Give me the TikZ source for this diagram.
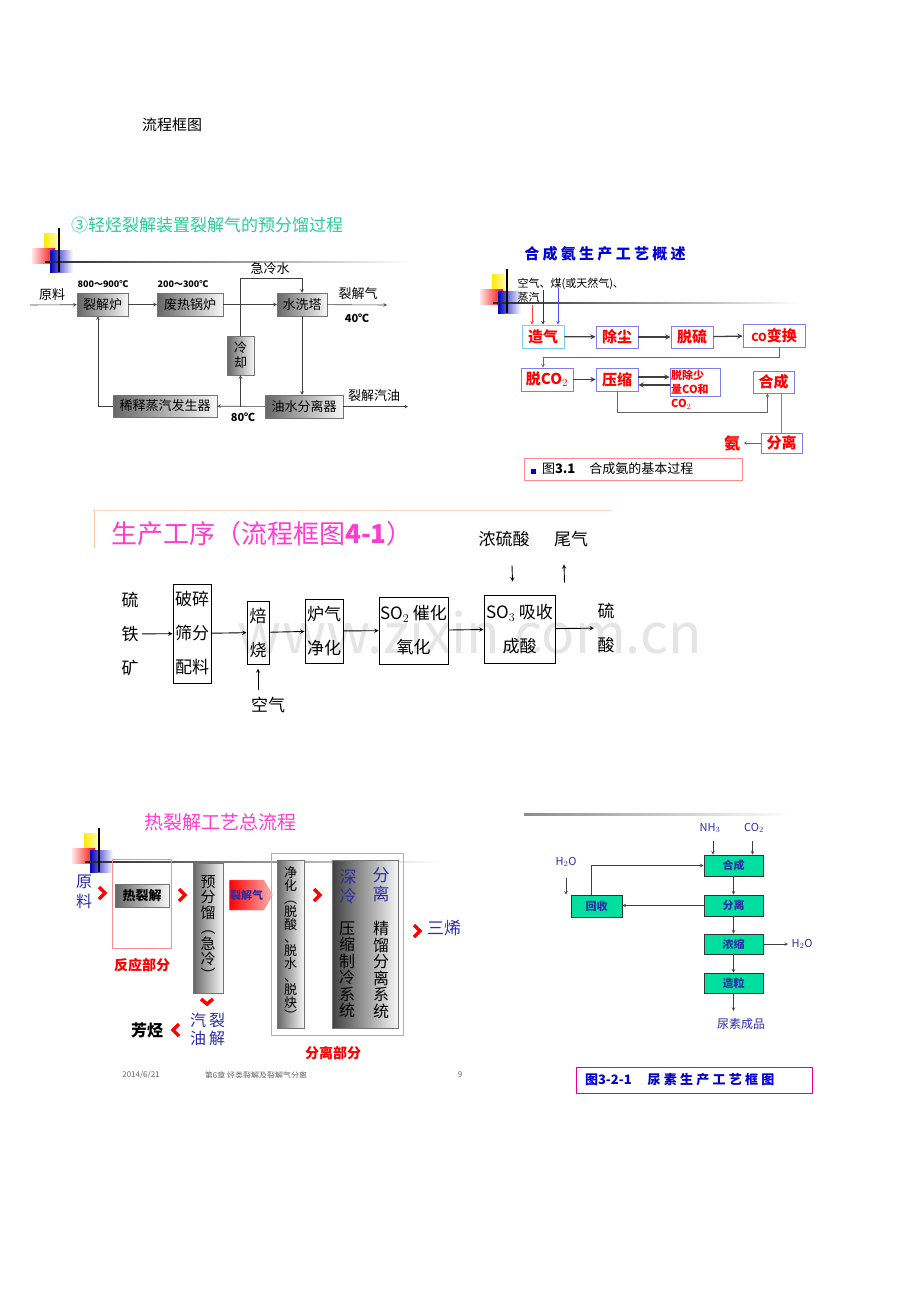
\documentclass[tikz,border=0pt]{standalone}
\usepackage{fontspec}
\setmainfont{Noto Sans CJK SC}
\usetikzlibrary{shapes.symbols}

\definecolor{mint}{RGB}{0,222,160}
\definecolor{rose}{RGB}{255,60,210}
\definecolor{seagreen}{RGB}{40,205,150}
\definecolor{inkblue}{RGB}{45,45,170}
\definecolor{frameblue}{RGB}{125,125,235}

\tikzset{
  pics/cornermark/.style={code={
    \shade[left color=yellow!85!orange, right color=white] (-15,-29) rectangle (4,-12);
    \shade[left color=red!10, right color=red] (-27,-14) rectangle (-4,1);
    \shade[left color=blue!75!black, right color=white] (-9,-12) rectangle (14,10);
    \shade[left color=black!85, right color=white] (-14,-0.7) rectangle (#1,0.7);
    \draw[line width=1.1pt] (0,-34) -- (0,10);
  }},
  f9/.style={font=\bfseries\fontsize{9}{11}\selectfont},
  f11/.style={font=\fontsize{11}{14}\selectfont},
  f13/.style={font=\fontsize{13}{15}\selectfont},
  f16/.style={font=\fontsize{16}{18}\selectfont},
  f17/.style={font=\fontsize{17}{34}\selectfont},
  shadebox/.style={draw=black!55, left color=black!60, right color=black!3, inner sep=0pt, align=center},
  bluebox/.style={draw=frameblue, line width=0.9pt, text=red, inner sep=0pt, font=\bfseries\fontsize{15}{17}\selectfont},
  plainbox/.style={draw, line width=1pt, inner sep=0pt, align=center, font=\fontsize{17}{34}\selectfont},
  greenbox/.style={draw=black!80, line width=0.8pt, fill=mint, text=inkblue, inner sep=0pt, minimum width=59, minimum height=21, font=\bfseries\fontsize{11}{13}\selectfont},
  redframe/.style={draw=red!45, line width=0.8pt},
  chev/.style={red, line width=3.5pt},
  thinarrow/.style={->, black!75, line width=0.6pt},
  heavyarrow/.style={->, black!75, line width=1.3pt},
}

\begin{document}
\begin{tikzpicture}[x=1pt,y=-1pt,>=stealth]
\useasboundingbox[fill=white] (0,0) rectangle (920,1302);

\node[font=\fontsize{15}{18}\selectfont] (T0) at (172,125) {流程框图};

% light cracking gas pre-fractionation
\node[font=\fontsize{17}{20}\selectfont, text=seagreen] (T1) at (207,225) {③轻烃裂解装置裂解气的预分馏过程};
\pic at (59,262) {cornermark=351};
\node[shadebox, f13, minimum width=51, minimum height=23] (A1) at (102.5,304.5) {裂解炉};
\node[shadebox, f13, minimum width=66, minimum height=23] (B1) at (190,304.5) {废热锅炉};
\node[shadebox, f13, minimum width=50, minimum height=23] (C1) at (302,304.5) {水洗塔};
\node[shadebox, f13, minimum width=27, minimum height=39, font=\fontsize{13}{15}\selectfont] (D1) at (240.5,355.5) {冷\\却};
\node[shadebox, f13, minimum width=78, minimum height=23] (E1) at (304,406.5) {油水分离器};
\node[shadebox, f13, minimum width=104, minimum height=22] (F1) at (165,406) {稀释蒸汽发生器};
\node[f13] (L1) at (52,295) {原料};
\node[f9] (M1) at (103,284) {800～900℃};
\node[f9] (M2) at (183,284) {200～300℃};
\node[f13] (N1) at (270,269) {急冷水};
\node[f13] (O1) at (358,294) {裂解气};
\node[f9, font=\bfseries\fontsize{11}{13}\selectfont] (P1) at (357,318) {40℃};
\node[f13] (Q1) at (374,396) {裂解汽油};
\node[font=\bfseries\fontsize{11}{13}\selectfont] (R1) at (243,417) {80℃};
\coordinate (S1) at (30,305);
\coordinate (X1) at (387,305);
\coordinate (Y1) at (408,406.5);
\coordinate (K1) at (302,278);
\draw[thinarrow] (S1) -- (A1);
\draw[thinarrow] (A1) -- (B1);
\draw[thinarrow] (B1) -- (C1);
\draw[thinarrow] (C1) -- (X1);
\draw[thinarrow] (C1.south) -- (C1 |- E1.north);
\draw[thinarrow] (E1) -- (Y1);
\draw[thinarrow] (E1) -- (F1);
\draw[thinarrow] (D1 |- E1) -- (D1.south);
\draw[thinarrow] (D1.north) |- (K1) -- (C1.north);
\draw[thinarrow] (F1.west) -| ([xshift=-4.5pt]A1.south);

% ammonia synthesis
\node[font=\bfseries\fontsize{15}{17}\selectfont\addfontfeatures{LetterSpace=22}, text=blue!85!black] (T2) at (605,254) {合成氨生产工艺概述};
\pic at (507,303) {cornermark=293};
\node[f11, align=left, anchor=north west] (U2) at (514,275) {空气、煤(或天然气)、\\蒸汽};
\node[bluebox, draw=cyan!55, minimum width=42, minimum height=23] (A2) at (543,336.5) {造气};
\node[bluebox, minimum width=42, minimum height=22] (B2) at (617,337) {除尘};
\node[bluebox, minimum width=42, minimum height=22] (C2) at (692,337) {脱硫};
\node[bluebox, minimum width=62, minimum height=23] (D2) at (774,335.5) {{\fontsize{11}{13}\selectfont CO}变换};
\node[bluebox, minimum width=52, minimum height=23] (E2) at (547,379.5) {脱CO$_2$};
\node[bluebox, minimum width=42, minimum height=23] (F2) at (617,379.5) {压缩};
\node[bluebox, minimum width=50, minimum height=28] (G2) at (695,382) {};
\node[anchor=north west, align=left, text=red, inner sep=0pt, font=\bfseries\fontsize{11}{14}\selectfont] (G2t) at (671,370) {脱除少\\量CO和\\CO$_2$};
\node[bluebox, minimum width=41, minimum height=22] (H2) at (773.5,382) {合成};
\node[bluebox, minimum width=41, minimum height=20] (I2) at (781.5,443) {分离};
\node[text=red, font=\bfseries\fontsize{16}{18}\selectfont] (N2) at (732,443) {氨};
\coordinate (V2a) at (532,305);
\coordinate (V2b) at (543,290);
\coordinate (V2c) at (558,288);
\draw[->, red!75, line width=0.6pt] (V2a) -- (V2a |- A2.north);
\draw[->, black!80, line width=0.6pt] (V2b) -- (V2b |- A2.north);
\draw[->, blue!70, line width=0.6pt] (V2c) -- (V2c |- A2.north);
\draw[heavyarrow] (A2) -- (B2);
\draw[heavyarrow] (B2) -- (C2);
\draw[heavyarrow] (C2) -- (D2);
\draw[thinarrow, black!60] ([xshift=5pt]D2.south) -- ++(0,10) -| (E2.north -| A2);
\draw[heavyarrow] (E2) -- (F2);
\draw[heavyarrow] ([yshift=2.5pt]F2.east) -- ([yshift=2.5pt]F2.east -| G2.west);
\draw[heavyarrow] ([yshift=-5.5pt]F2.east -| G2.west) -- ([yshift=-5.5pt]F2.east);
\draw[thinarrow, black!60] (F2.south) -- ++(0,21) -| ([xshift=-6pt]H2.south);
\draw[black!50, line width=1pt] (H2.south -| I2) -- (I2.north);
\draw[thinarrow, black!60] (I2) -- (N2);
\node[redframe, minimum width=218, minimum height=22, inner xsep=7pt, text width=204, align=left, font=\fontsize{13}{15}\selectfont] (J2) at (633,469) {\textcolor{blue!75!black}{\rule{5pt}{5pt}}\hspace{6pt}图\textbf{3.1}\hspace{14pt}合成氨的基本过程};

% sulfuric acid
\node[text=black!10, font=\fontsize{55}{60}\selectfont] (W3) at (470,633) {www.zixin.com.cn};
\draw[orange!30, line width=0.8pt] (93,510) -- (612,510);
\draw[orange!40, line width=1pt] (94,510) -- (94,548);
\node[text=rose, font=\fontsize{26}{30}\selectfont] (T3) at (262,534) {生产工序（流程框图\textbf{4-1}）};
\node[plainbox, minimum width=38, minimum height=99] (A3) at (192,633.5) {破碎\\筛分\\配料};
\node[plainbox, minimum width=22, minimum height=63] (B3) at (258,632.5) {焙\\烧};
\node[plainbox, minimum width=38, minimum height=64] (C3) at (324,631) {炉气\\净化};
\node[plainbox, minimum width=69, minimum height=67] (D3) at (413.5,630.5) {SO$_2$ 催化\\氧化};
\node[plainbox, minimum width=71, minimum height=68] (E3) at (519.5,629) {SO$_3$ 吸收\\成酸};
\node[f17, align=center] (F3) at (130,634) {硫\\铁\\矿};
\node[f17, align=center] (G3) at (606,628) {硫\\酸};
\node[f17] (H3) at (268,705) {空气};
\node[f17] (I3) at (504,539) {浓硫酸};
\node[f17] (J3) at (571,539) {尾气};
\draw[->, line width=0.9pt] (F3) -- (A3);
\draw[->, line width=0.9pt] (A3) -- (B3);
\draw[->, line width=0.9pt] (B3) -- (C3);
\draw[->, line width=0.9pt] (C3) -- (D3);
\draw[->, line width=0.9pt] (D3) -- (E3);
\draw[->, line width=0.9pt] (E3) -- (G3);
\draw[->, line width=0.9pt] ([xshift=-10pt,yshift=4pt]H3.north) -- ([yshift=-4pt]B3.south);
\draw[->, line width=0.9pt] ([xshift=8pt,yshift=-15pt]I3.south) -- ([xshift=-7pt,yshift=13pt]E3.north);
\draw[->, line width=0.9pt] ([xshift=45pt,yshift=12pt]E3.north) -- ([xshift=-7pt,yshift=-14pt]J3.south);

% thermal cracking overview
\node[text=rose, font=\fontsize{19}{22}\selectfont] (T4) at (220,822) {热裂解工艺总流程};
\pic at (99,862) {cornermark=341};
\node[redframe, minimum width=59, minimum height=89] (K4) at (141.5,903.5) {};
\node[redframe, minimum width=132, minimum height=182] (L4) at (337,944) {};
\node[text=inkblue, align=center, font=\fontsize{16}{20}\selectfont] (R4) at (84,892) {原\\料};
\node[shadebox, minimum width=54, minimum height=23, font=\bfseries\fontsize{13}{15}\selectfont] (A4) at (142,895.5) {热裂解};
\node[shadebox, minimum width=30, minimum height=130, font=\fontsize{15}{15.5}\selectfont] (B4) at (208,928) {预\\分\\馏\\︵\\急\\冷\\︶};
\node[signal, signal to=east, signal pointer angle=120, left color=red, right color=red!30, draw=red!50, minimum width=43, minimum height=30, inner sep=0pt, text=inkblue, font=\bfseries\fontsize{11}{13}\selectfont] (C4) at (246.5,895) {裂解气};
\node[shadebox, minimum width=27, minimum height=168, font=\fontsize{13}{13}\selectfont] (D4) at (290.5,944) {净\\化\\︵\\脱\\酸\\、\\脱\\水\\、\\脱\\炔\\︶};
\node[shadebox, left color=black!75, minimum width=66, minimum height=168] (E4) at (365,944) {};
\node[text=inkblue, align=center, font=\fontsize{17}{19}\selectfont] (E4a) at (348,887) {深\\冷};
\node[text=inkblue, align=center, font=\fontsize{17}{19}\selectfont] (E4b) at (381,885) {分\\离};
\node[align=center, font=\fontsize{16}{16.5}\selectfont] (E4c) at (347,970) {压\\缩\\制\\冷\\系\\统};
\node[align=center, font=\fontsize{16}{16.5}\selectfont] (E4d) at (381,970) {精\\馏\\分\\离\\系\\统};
\node[text=inkblue, align=center, font=\fontsize{16}{18}\selectfont] (F4a) at (198,1029) {汽\\油};
\node[text=inkblue, align=center, font=\fontsize{16}{18}\selectfont] (F4b) at (217,1029) {裂\\解};
\node[font=\bfseries\fontsize{16}{18}\selectfont] (G4) at (147,1030) {芳烃};
\node[text=inkblue, font=\fontsize{17}{19}\selectfont] (H4) at (444,928) {三烯};
\node[text=red, font=\bfseries\fontsize{14}{16}\selectfont] (K4t) at (142,965) {反应部分};
\node[text=red, font=\bfseries\fontsize{14}{16}\selectfont] (L4t) at (333,1053) {分离部分};
\draw[chev] (99,887) -- ++(6,6) -- ++(-6,6);
\draw[chev] (179,889) -- ++(6,6) -- ++(-6,6);
\draw[chev] (201,999) -- ++(6,5) -- ++(6,-5);
\draw[chev] (179,1024) -- ++(-6,6) -- ++(6,6);
\draw[chev] (314,889) -- ++(6,6) -- ++(-6,6);
\draw[chev] (414,925) -- ++(6,6) -- ++(-6,6);
\begin{scope}
\clip (60,1066) rectangle (480,1077);
\node[text=black!60, font=\fontsize{8}{10}\selectfont] (Z4a) at (141,1075) {2014/6/21};
\node[text=black!60, font=\fontsize{8}{10}\selectfont] (Z4b) at (256,1075) {第6章 烃类裂解及裂解气分离};
\node[text=black!60, font=\fontsize{8}{10}\selectfont] (Z4c) at (460,1075) {9};
\end{scope}

% urea
\shade[left color=black!45, right color=white] (524,813) rectangle (790,815.5);
\node[greenbox] (A5) at (733.5,865.5) {合成};
\node[greenbox] (B5) at (733.5,905.5) {分离};
\node[greenbox, minimum height=20] (C5) at (733.5,944) {浓缩};
\node[greenbox, minimum height=20] (D5) at (733.5,983) {造粒};
\node[greenbox, minimum width=51, minimum height=22] (E5) at (596.5,906) {回收};
\node[text=inkblue, f11] (F5) at (710,828) {NH$_3$};
\node[text=inkblue, f11] (G5) at (754,828) {CO$_2$};
\node[text=inkblue, f11] (H5) at (566,862) {H$_2$O};
\node[text=inkblue, f11] (J5) at (802,944) {H$_2$O};
\node[text=inkblue, font=\fontsize{12}{14}\selectfont] (I5) at (741,1024) {尿素成品};
\draw[thinarrow] ([xshift=3pt,yshift=-5pt]F5.south) -- ([xshift=-20.5pt]A5.north);
\draw[thinarrow] ([xshift=-1.5pt,yshift=-5pt]G5.south) -- ([xshift=19pt]A5.north);
\draw[thinarrow] ([yshift=-8pt]H5.south) -- (H5.south |- E5.north);
\draw[thinarrow] ([xshift=-5.5pt]E5.north) |- (A5.west);
\draw[thinarrow] (B5.west) -- (E5.east |- B5.west);
\draw[thinarrow] (A5) -- (B5);
\draw[thinarrow] (B5) -- (C5);
\draw[thinarrow] (C5) -- (D5);
\draw[thinarrow, shorten >=4pt] (D5.south) -- (D5.south |- I5.north);
\draw[thinarrow] (C5) -- (J5);
\node[draw=magenta, line width=0.8pt, minimum width=236, minimum height=26, inner xsep=9pt, text width=218, align=left, text=blue!80!black, font=\bfseries\fontsize{13}{15}\selectfont] (K5) at (694,1080) {图3-2-1\hspace{16pt}{\addfontfeatures{LetterSpace=25}尿素生产工艺框图}};
\end{tikzpicture}
\end{document}
